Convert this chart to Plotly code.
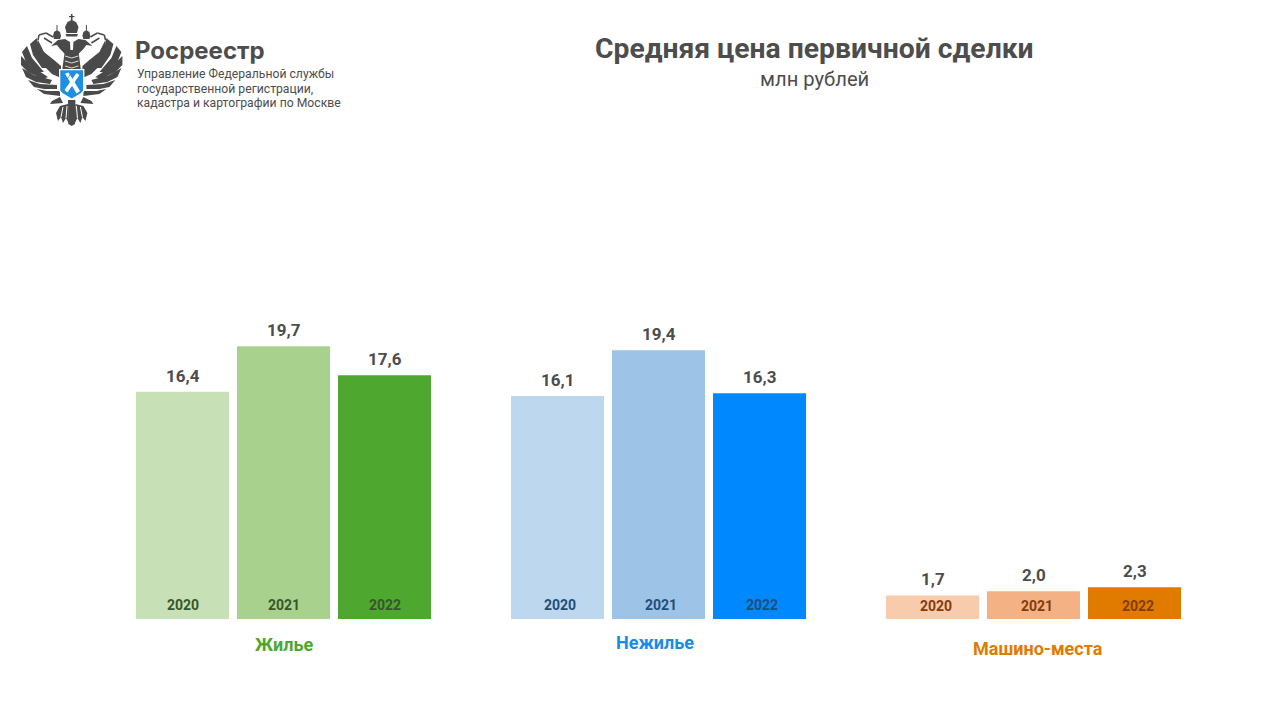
import plotly.graph_objects as go

W, H = 1280, 720
GROUPS = ["Жилье", "Нежилье", "Машино-места"]
YEARS = ["2020", "2021", "2022"]
VALUES = {
    "2020": [16.4, 16.1, 1.7],
    "2021": [19.7, 19.4, 2.0],
    "2022": [17.6, 16.3, 2.3],
}
COLORS = {
    "2020": ["#c7e0b5", "#bdd7ee", "#f8cbad"],
    "2021": ["#a9d18e", "#9dc3e6", "#f4b183"],
    "2022": ["#4ea72e", "#0088ff", "#e07b00"],
}
YEAR_COLORS = ["#37572a", "#1f4e79", "#843c0c"]
GROUP_COLORS = ["#4ea72e", "#1a8be8", "#e07b00"]
GROUP_LABEL_Y = [644, 642, 648]
GROUP_LABEL_DX = [0, -4, 4.5]
YEAR_DX = [0, 2, 3.5]
YEAR_DY = [4, 4, 3]
TITLE = "Средняя цена первичной сделки"
SUBTITLE = "млн рублей"
BRAND = "Росреестр"
BRAND_LINES = ["Управление Федеральной службы", "государственной регистрации,", "кадастра и картографии по Москве"]
GRAY = "#4d4d4d"
FONT = "Roboto"

def fmt(v):
    return f"{v:.1f}".replace(".", ",")

fig = go.Figure()
for y in YEARS:
    fig.add_bar(name=y, x=GROUPS, y=VALUES[y], marker=dict(color=COLORS[y], line_width=0))

def px(x): return x / W
def py(y): return 1 - y / H

ann = []
PITCH = 101
for gi, g in enumerate(GROUPS):
    for yi, y in enumerate(YEARS):
        ann.append(dict(x=g, y=0, xref="x", yref="y", text=y, showarrow=False,
                        xshift=(yi - 1) * PITCH + YEAR_DX[gi], yanchor="bottom", yshift=YEAR_DY[gi],
                        font=dict(family=FONT, size=14, color=YEAR_COLORS[gi], weight=700)))
        ann.append(dict(x=g, y=VALUES[y][gi], xref="x", yref="y", text=fmt(VALUES[y][gi]), showarrow=False,
                        xshift=(yi - 1) * PITCH, yanchor="bottom", yshift=4,
                        font=dict(family=FONT, size=17, color=GRAY, weight=700)))
    ann.append(dict(x=g, xref="x", y=py(GROUP_LABEL_Y[gi]), yref="paper", text=g, showarrow=False,
                    xshift=GROUP_LABEL_DX[gi], yanchor="middle",
                    font=dict(family=FONT, size=18, color=GROUP_COLORS[gi], weight=700)))

def txt(x, y, s, size, weight=400, anchor="left", family=FONT):
    ann.append(dict(x=px(x), y=py(y), xref="paper", yref="paper", text=s, showarrow=False,
                    xanchor=anchor, yanchor="middle", xshift=0,
                    font=dict(family=family, size=size, color=GRAY, weight=weight)))

txt(814.5, 49, TITLE, 28.3, 700, "center")
txt(814.5, 79, SUBTITLE, 20.2, 400, "center")
txt(133, 51, BRAND, 24, 700, "left", "Inter")
for i, line in enumerate(BRAND_LINES):
    txt(134.5, 74.5 + i * 14, line, 12.2)

# Simplified emblem drawn as vector shapes (pixel coordinates of the page)
def path(points, color):
    d = "M " + " L ".join(f"{px(a):.5f},{py(b):.5f}" for a, b in points) + " Z"
    return dict(type="path", xref="paper", yref="paper", path=d, fillcolor=color, line_width=0, layer="above")

def seg(a, b, color, width):
    return dict(type="line", xref="paper", yref="paper", x0=px(a[0]), y0=py(a[1]), x1=px(b[0]), y1=py(b[1]),
                line=dict(color=color, width=width), layer="above")

EAGLE = "#4a4a4a"
CX = 71.7
def mirror(pts): return [(2 * CX - a, b) for a, b in pts]
def mirrored(points, color): return [path(points, color), path(mirror(points), color)]

shapes = []
# inner wing
shapes += mirrored([(38, 40), (44, 52), (54, 60), (61, 66), (61, 78), (52, 74), (42, 64), (37, 52)], EAGLE)
# separate feathers
FEATHERS = [
    [(37, 38), (30, 44), (33, 55), (42, 68), (47, 68), (40, 54)],
    [(27, 46), (22, 52), (26, 62), (38, 72), (44, 72), (32, 58)],
    [(21, 56), (21, 65), (28, 72), (43, 79), (48, 77), (30, 65)],
    [(22, 68), (26, 77), (36, 82), (50, 84), (52, 80), (34, 75)],
    [(28, 80), (34, 87), (44, 89), (57, 89), (57, 85), (40, 84)],
    [(37, 89), (44, 94), (52, 95), (60, 96), (60, 91), (47, 91)],
]
for f in FEATHERS:
    shapes += mirrored(f, EAGLE)
# neck, body
shapes += [path([(65, 50), (78.4, 50), (81, 71), (62, 71)], EAGLE)]
for y in (56, 61, 66):
    shapes.append(seg((65, y), (71.7, y + 2), "#ffffff", 0.8))
    shapes.append(seg((78.4, y), (71.7, y + 2), "#ffffff", 0.8))
# heads and beaks
shapes += mirrored([(70, 42), (65, 39), (58, 40), (51, 46), (57, 45), (60, 49), (66, 55), (70.5, 52)], EAGLE)
# central crown with cross
shapes += [
    path([(70.9, 14), (72.5, 14), (72.5, 21), (70.9, 21)], EAGLE),
    path([(69, 16), (74.5, 16), (74.5, 17.2), (69, 17.2)], EAGLE),
    path([(71.7, 20), (76, 22), (78.5, 27), (77, 33), (66.5, 33), (65, 27), (67.5, 22)], EAGLE),
    path([(65.5, 34), (78, 34), (77, 36.5), (66.5, 36.5)], EAGLE),
]
# side crowns
shapes += mirrored([(57, 30), (60, 32), (61, 36), (60, 39), (54, 39), (53, 36), (54, 32)], EAGLE)
shapes += mirrored([(56.5, 25), (57.5, 25), (57.5, 30), (56.5, 30)], EAGLE)
# ribbons from the crowns
for a, b in [((53, 37), (46, 33)), ((46, 33), (39, 35)), ((39, 35), (38, 40)), ((44, 38), (52, 43))]:
    shapes.append(seg(a, b, EAGLE, 1.5))
    ma, mb = mirror([a, b])
    shapes.append(seg(ma, mb, EAGLE, 1.5))
# tail and legs
shapes += mirrored([(68, 104), (60, 106), (56, 113), (58, 121), (61, 117), (63, 123), (66, 118), (69, 124)], EAGLE)
shapes += [path([(68, 100), (75.4, 100), (75, 124), (71.7, 126), (68.4, 124)], EAGLE)]
shapes += mirrored([(60, 97), (52, 101), (50, 104), (63, 103)], EAGLE)
for a, b in [((63, 107), (61, 117)), ((67, 106), (66, 118))]:
    shapes.append(seg(a, b, "#ffffff", 1))
    ma, mb = mirror([a, b])
    shapes.append(seg(ma, mb, "#ffffff", 1))
# shield
shapes += [
    path([(59, 69), (84.4, 69), (84.4, 91), (82, 94), (71.7, 100), (61.4, 94), (59, 91)], "#ffffff"),
    path([(60.3, 70.3), (83.1, 70.3), (83.1, 90.5), (81, 93), (71.7, 98.5), (62.4, 93), (60.3, 90.5)], "#1e8fe1"),
    path([(65, 73.5), (68.5, 72.5), (80, 91), (76.5, 93.5)], "#ffffff"),
    path([(79.5, 75), (76.5, 73), (64.5, 90), (67.5, 92.5)], "#ffffff"),
    seg((72, 72), (63, 85), "#1e8fe1", 0.8),
]

fig.update_layout(
    width=W, height=H, autosize=False,
    margin=dict(l=0, r=0, t=0, b=0),
    paper_bgcolor="white", plot_bgcolor="white",
    barmode="group", bargap=72 / 375, bargroupgap=8 / 101,
    showlegend=False, annotations=ann, shapes=shapes,
    font=dict(family=FONT, color=GRAY),
    xaxis=dict(domain=[96 / W, 1221 / W], showticklabels=False, showgrid=False, zeroline=False,
               showline=False, ticks="", type="category", range=[-0.5, 2.5], fixedrange=True),
    yaxis=dict(domain=[py(619), py(119)], range=[0, 500 / 13.85], showticklabels=False, showgrid=False,
               zeroline=False, showline=False, ticks="", fixedrange=True),
)
fig.write_html("out.html", config={"displayModeBar": False},
               post_script="document.body.style.margin='0';")
